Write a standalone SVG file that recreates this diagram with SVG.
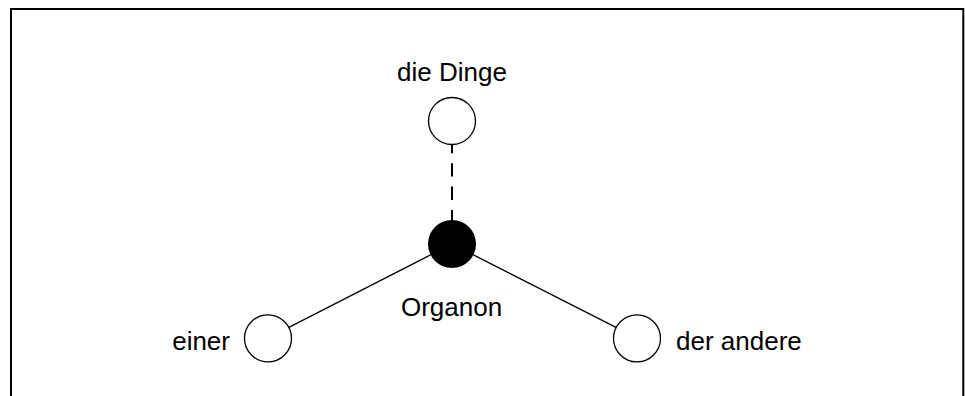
<svg xmlns="http://www.w3.org/2000/svg" width="965" height="396" viewBox="0 0 965 396">
<style>
.lbl{font-family:"Liberation Sans",Arial,sans-serif;font-size:26px;fill:#000}
.c{fill:#fff;stroke:#000;stroke-width:1.3}
.e{stroke:#000;stroke-width:1.3;fill:none}
.d{stroke:#000;stroke-width:2;stroke-dasharray:13.3 10;fill:none}
</style>
<rect width="965" height="396" fill="#fff"/>
<path d="M11,396 V9 H963.3 V396" fill="none" stroke="#000" stroke-width="2"/>
<g id="connectors">
<line class="d" x1="452" y1="140" x2="452" y2="222"/>
<line class="e" x1="430.6" y1="254.9" x2="288.9" y2="327.3"/>
<line class="e" x1="473.4" y1="254.9" x2="616" y2="327.4"/>
</g>
<g id="dinge">
<circle class="c" cx="452" cy="121" r="23.5"/>
<text class="lbl" x="452" y="80.5" text-anchor="middle">die Dinge</text>
</g>
<g id="organon">
<circle cx="452" cy="244" r="24" fill="#000"/>
<text class="lbl" x="451.5" y="316" text-anchor="middle">Organon</text>
</g>
<g id="einer">
<circle class="c" cx="268" cy="338.3" r="23.5"/>
<text class="lbl" x="230" y="350" text-anchor="end">einer</text>
</g>
<g id="andere">
<circle class="c" cx="637" cy="338.3" r="23.5"/>
<text class="lbl" x="676" y="350">der andere</text>
</g>
</svg>
